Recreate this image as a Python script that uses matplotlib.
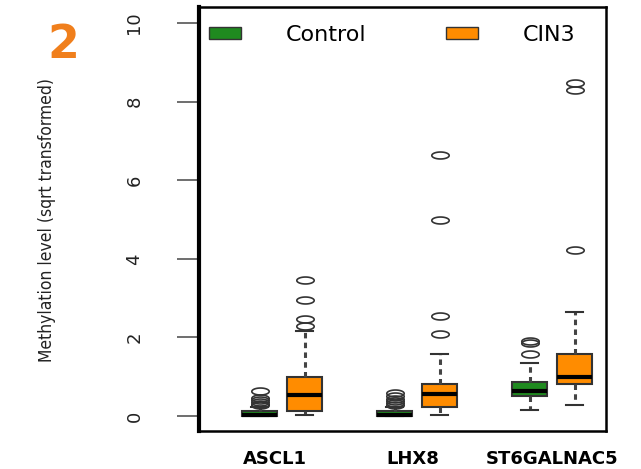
import matplotlib.pyplot as plt
from matplotlib.path import Path
from matplotlib.patches import Patch
import numpy as np

# box statistics (sqrt-transformed methylation level)
genes = ["ASCL1", "LHX8", "ST6GALNAC5"]
groups = ["Control", "CIN3"]
q1 = [0.00, 0.13, 0.00, 0.22, 0.51, 0.81]
med = [0.03, 0.53, 0.03, 0.56, 0.64, 1.00]
q3 = [0.13, 1.00, 0.13, 0.81, 0.88, 1.58]
whis_lo = [0.00, 0.02, 0.00, 0.03, 0.15, 0.28]
whis_hi = [0.22, 2.16, 0.22, 1.59, 1.34, 2.64]
outliers = [
    [0.28, 0.32, 0.36, 0.40, 0.45, 0.64],
    [2.30, 2.46, 2.95, 3.46],
    [0.28, 0.33, 0.38, 0.44, 0.50, 0.60],
    [2.10, 2.55, 4.99, 6.64],
    [1.57, 1.86, 1.92],
    [4.22, 8.30, 8.48],
]

positions = [1, 2, 4, 5, 7, 8]
label_pos = [1.34, 4.41, 7.5]
green = "#1f8a1f"
orange = "#ff8c00"
colors = [green, orange] * 3

# flattened ellipse for the open outlier circles
theta = np.linspace(0, 2 * np.pi, 60)
ellipse = Path(np.column_stack([np.cos(theta), 0.40 * np.sin(theta)]), closed=True)

fig = plt.figure(figsize=(6.41, 4.69), dpi=100)
ax = fig.add_axes([0.3105, 0.081, 0.6349, 0.904])

stats = []
for i in range(len(positions)):
    stats.append({
        "med": med[i], "q1": q1[i], "q3": q3[i],
        "whislo": whis_lo[i], "whishi": whis_hi[i], "fliers": outliers[i],
    })

bp = ax.bxp(
    stats,
    positions=positions,
    widths=0.78,
    capwidths=0.39,
    patch_artist=True,
    boxprops=dict(edgecolor="#333333", linewidth=1.5),
    medianprops=dict(color="black", linewidth=3),
    whiskerprops=dict(color="#444444", linewidth=2.2, linestyle=(0, (1.8, 1.4))),
    capprops=dict(color="#333333", linewidth=1.5),
    flierprops=dict(marker=ellipse, markersize=12.5, markerfacecolor="none",
                    markeredgecolor="#333333", markeredgewidth=1.2),
)
for patch, c in zip(bp["boxes"], colors):
    patch.set_facecolor(c)

ax.set_xlim(-0.344, 8.7)
ax.set_ylim(-0.38, 10.41)

ax.set_yticks([0, 2, 4, 6, 8, 10])
ax.set_yticklabels(["0", "2", "4", "6", "8", "10"], rotation=90, va="center",
                   fontsize=13, color="#222222")
ax.tick_params(axis="y", length=16, width=1.2, color="#555555", pad=24)

ax.set_xticks(label_pos)
ax.set_xticklabels(genes, fontsize=13, fontweight="bold", color="black")
ax.tick_params(axis="x", length=0, pad=14)

for side in ["top", "right", "bottom"]:
    ax.spines[side].set_linewidth(1.8)
ax.spines["left"].set_linewidth(3)

handles = [Patch(facecolor=green, edgecolor="#333333"),
           Patch(facecolor=orange, edgecolor="#333333")]
ax.legend(handles, groups, loc="upper left", ncol=2, frameon=False,
          fontsize=16, handlelength=1.45, handleheight=0.45,
          handletextpad=2.0, columnspacing=3.6,
          bbox_to_anchor=(-0.025, 1.005))

fig.text(47 / 641, 1 - 220 / 469, "Methylation level (sqrt transformed)",
         rotation=90, ha="center", va="center", fontsize=12.5,
         family="DejaVu Sans", stretch="condensed", color="#222222")

fig.text(63 / 641, 1 - 46 / 469, "2", ha="center", va="center",
         fontsize=33, fontweight="bold", color="#f07f1c")

fig.savefig("out.png", dpi=100)
